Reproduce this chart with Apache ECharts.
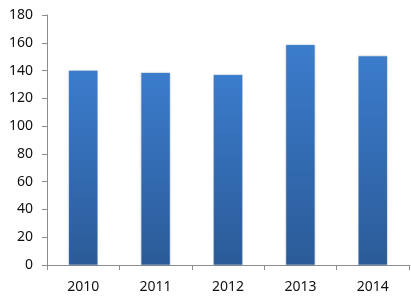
<!DOCTYPE html>
<html><head><meta charset="utf-8">
<script src="https://cdn.jsdelivr.net/npm/echarts@6/dist/echarts.min.js"></script>
<style>html,body{margin:0;padding:0;background:#fff}#c{width:411px;height:307px}</style>
</head><body><div id="c"></div>
<script>
const categories = ['2010', '2011', '2012', '2013', '2014'];
const values = [140, 138.5, 137, 158.5, 150.5];
const yTicks = { min: 0, max: 180, interval: 20 };

const chart = echarts.init(document.getElementById('c'), null, { renderer: 'canvas' });
chart.setOption({
  animation: false,
  backgroundColor: '#ffffff',
  grid: { left: 47, right: 2, top: 15, bottom: 42 },
  xAxis: {
    type: 'category',
    data: categories,
    axisLine: { lineStyle: { color: '#8c8c8c', width: 1 } },
    axisTick: { show: true, length: 5, alignWithLabel: false, lineStyle: { color: '#8c8c8c' } },
    axisLabel: { color: '#111111', fontFamily: 'Noto Sans', fontSize: 14, margin: 15 }
  },
  yAxis: {
    type: 'value',
    min: yTicks.min, max: yTicks.max, interval: yTicks.interval,
    axisLine: { show: true, lineStyle: { color: '#8c8c8c', width: 1 } },
    axisTick: { show: true, length: 5, lineStyle: { color: '#8c8c8c' } },
    splitLine: { show: false },
    axisLabel: { color: '#111111', fontFamily: 'Noto Sans', fontSize: 14, margin: 14 }
  },
  series: [{
    type: 'bar',
    data: values,
    barWidth: 29,
    itemStyle: {
      color: new echarts.graphic.LinearGradient(0, 0, 0, 1, [
        { offset: 0, color: '#3b7ccc' },
        { offset: 1, color: '#2b5b98' }
      ]),
      borderColor: 'rgba(120,160,215,0.6)',
      borderWidth: 0.5,
      shadowColor: 'rgba(0,0,0,0.15)',
      shadowBlur: 2
    }
  }]
});
</script></body></html>
